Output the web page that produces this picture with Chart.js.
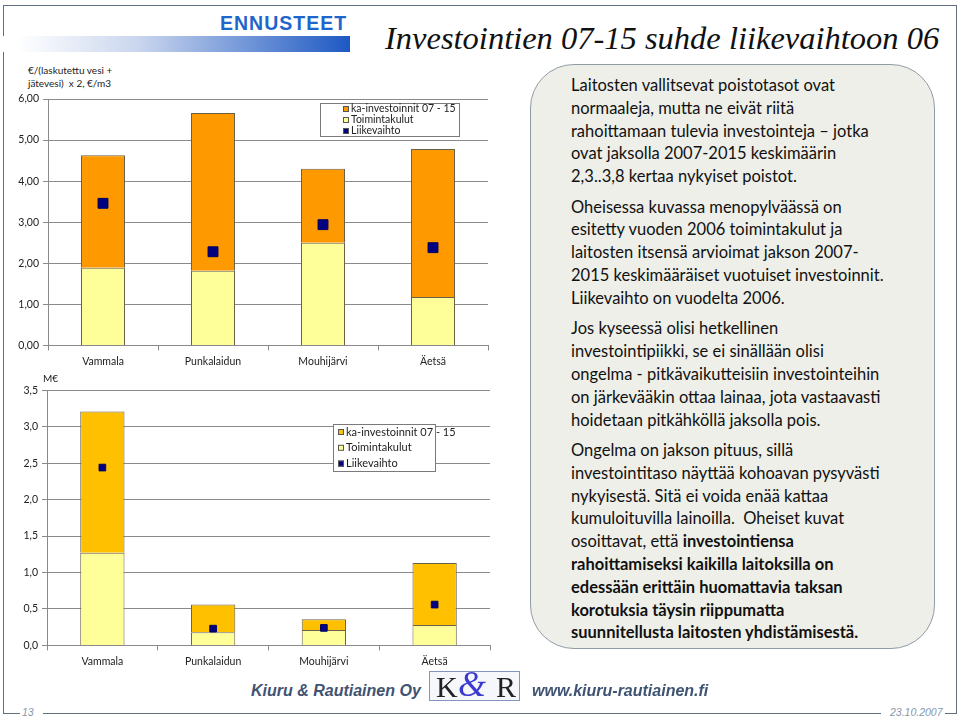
<!DOCTYPE html>
<html>
<head>
<meta charset="utf-8">
<script src="https://cdn.jsdelivr.net/npm/chart.js@4.4.0/dist/chart.umd.min.js"></script>
<style>
  html, body { margin: 0; padding: 0; background: #fff; }
  #page { position: relative; width: 959px; height: 721px; overflow: hidden; font-family: Lato, sans-serif; }
  .abs { position: absolute; }
  #frame { left: 3px; top: 5px; width: 952px; height: 708px; border-left: 1.5px solid #5f6f7f; border-top: 1.5px solid #5f6f7f; border-right: 1.5px solid #5f6f7f; }
  #grad { left: 0; top: 36px; width: 350px; height: 16px; background: linear-gradient(to right, #fff 0%, #fff 5%, #c9d5ee 40%, #1d59c3 100%); }
  #head { left: 220px; top: 12px; font: bold 19.5px "Liberation Sans", Arial, sans-serif; letter-spacing: 1px; color: #1f66cc; }
  #title { left: 385px; top: 20px; font: italic 32.5px "Liberation Serif", "Times New Roman", serif; color: #111; white-space: nowrap; }
  #ytitle { left: 28px; top: 64px; font-size: 10px; line-height: 13px; color: #222; }
  #meur { left: 43px; top: 372px; font-size: 10px; color: #222; }
  #note { left: 530px; top: 64px; width: 405px; height: 585px; border: 1.5px solid #8f9ca3; border-radius: 44px; background: #eeefe9; box-sizing: border-box; }
  #note .txt { position: absolute; left: 40px; top: 9px; font-size: 16.5px; line-height: 22.8px; color: #111; white-space: nowrap; }
  #note p { margin: 0 0 7.7px 0; }
  .foot { font: bold italic 16px "Liberation Sans", Arial, sans-serif; color: #3f5372; white-space: nowrap; }
  #logo { left: 429px; top: 671px; width: 91px; height: 30px; border: 1px solid #8593bf; background: #f6f7fb; box-sizing: border-box; }
  #logo span { position: absolute; font-family: "Liberation Serif", serif; }
  .small { font: italic 10.5px "Liberation Sans", Arial, sans-serif; color: #8797ad; }
  #bline { left: 43px; top: 713px; width: 838px; height: 0; border-top: 1.5px solid #5f6f7f; }
  #lcap { left: 3px; top: 713px; width: 17px; border-top: 1.5px solid #5f6f7f; }
  #rcap { left: 945px; top: 713px; width: 11.5px; border-top: 1.5px solid #5f6f7f; }
</style>
</head>
<body>
<div id="page">
  <div id="frame" class="abs"></div>
  <div id="grad" class="abs"></div>
  <div id="head" class="abs">ENNUSTEET</div>
  <div id="title" class="abs">Investointien 07-15 suhde liikevaihtoon 06</div>
  <div id="ytitle" class="abs">€/(laskutettu vesi +<br>jätevesi)&nbsp; x 2, €/m3</div>
  <canvas id="topChart" class="abs" style="left:0;top:88px;" width="500" height="285"></canvas>
  <div id="meur" class="abs">M€</div>
  <canvas id="botChart" class="abs" style="left:0;top:380px;" width="500" height="293"></canvas>

  <div id="note" class="abs">
    <div class="txt">
      <p>Laitosten vallitsevat poistotasot ovat<br>normaaleja, mutta ne eivät riitä<br>rahoittamaan tulevia investointeja – jotka<br>ovat jaksolla 2007-2015 keskimäärin<br>2,3..3,8 kertaa nykyiset poistot.</p>
      <p>Oheisessa kuvassa menopylväässä on<br>esitetty vuoden 2006 toimintakulut ja<br>laitosten itsensä arvioimat jakson 2007-<br>2015 keskimääräiset vuotuiset investoinnit.<br>Liikevaihto on vuodelta 2006.</p>
      <p>Jos kyseessä olisi hetkellinen<br>investointipiikki, se ei sinällään olisi<br>ongelma - pitkävaikutteisiin investointeihin<br>on järkevääkin ottaa lainaa, jota vastaavasti<br>hoidetaan pitkähköllä jaksolla pois.</p>
      <p>Ongelma on jakson pituus, sillä<br>investointitaso näyttää kohoavan pysyvästi<br>nykyisestä. Sitä ei voida enää kattaa<br>kumuloituvilla lainoilla.&nbsp; Oheiset kuvat<br>osoittavat, että <b>investointiensa<br>rahoittamiseksi kaikilla laitoksilla on<br>edessään erittäin huomattavia taksan<br>korotuksia täysin riippumatta<br>suunnitellusta laitosten yhdistämisestä.</b></p>
    </div>
  </div>

  <div class="abs foot" style="left:251px;top:682px;">Kiuru &amp; Rautiainen Oy</div>
  <div id="logo" class="abs">
    <span style="left:6px;top:-2px;font-size:30px;color:#222;">K</span>
    <span style="left:28px;top:-9px;font-size:36px;font-style:italic;color:#3a3ad0;">&amp;</span>
    <span style="left:66px;top:-2px;font-size:30px;color:#222;">R</span>
  </div>
  <div class="abs foot" style="left:532px;top:682px;">www.kiuru-rautiainen.fi</div>

  <div id="lcap" class="abs"></div>
  <div class="abs small" style="left:22px;top:706px;">13</div>
  <div id="bline" class="abs"></div>
  <div class="abs small" style="left:890px;top:706px;">23.10.2007</div>
  <div id="rcap" class="abs"></div>
</div>

<script>
// municipalities
const categories = ['Vammala', 'Punkalaidun', 'Mouhijärvi', 'Äetsä'];

// top chart: €/m3
const perM3Toimintakulut = [1.89, 1.82, 2.50, 1.18];
const perM3Investoinnit = [2.74, 3.84, 1.80, 3.60];
const perM3Liikevaihto = [3.46, 2.28, 2.94, 2.38];

// bottom chart: M€
const meurToimintakulut = [1.27, 0.18, 0.21, 0.28];
const meurInvestoinnit = [1.94, 0.38, 0.15, 0.85];
const meurLiikevaihto = [2.44, 0.23, 0.24, 0.56];

const labelInv = 'ka-investoinnit 07 - 15';
const labelToim = 'Toimintakulut';
const labelLv = 'Liikevaihto';

const gridCol = '#8a8a8a';
const barBorder = '#6a6248';
const tickFont = { family: 'Lato', size: 10.5 };

// legend drawn in a box inside the plot, like the spreadsheet original
const boxLegend = {
  id: 'boxLegend',
  afterDraw(chart, args, o) {
    const ctx = chart.ctx;
    ctx.save();
    ctx.fillStyle = '#fff';
    ctx.fillRect(o.x, o.y, o.w, o.h);
    ctx.strokeStyle = '#7a7a7a';
    ctx.lineWidth = 1;
    ctx.strokeRect(o.x + 0.5, o.y + 0.5, o.w, o.h);
    ctx.font = o.font;
    ctx.textBaseline = 'middle';
    o.order.forEach((idx, i) => {
      const ds = chart.data.datasets[idx];
      const cy = o.y + o.first + i * o.step;
      ctx.fillStyle = ds.legendColor || ds.backgroundColor;
      ctx.fillRect(o.x + o.mx, cy - o.s / 2, o.s, o.s);
      ctx.strokeStyle = '#555';
      ctx.strokeRect(o.x + o.mx + 0.5, cy - o.s / 2 + 0.5, o.s - 1, o.s - 1);
      ctx.fillStyle = '#222';
      ctx.fillText(ds.label, o.x + o.tx, cy);
    });
    ctx.restore();
  }
};

function makeChart(id, toim, inv, lv, invColor, yMax, step, decimals, axisW, padTop, padRight, markR, legend) {
  return new Chart(document.getElementById(id), {
    type: 'bar',
    data: {
      labels: categories,
      datasets: [
        {
          type: 'line', label: labelLv, data: lv, stack: 'lv', order: 0,
          showLine: false, pointStyle: 'rect', pointRadius: markR,
          backgroundColor: '#000080', borderColor: '#000060', borderWidth: 1,
          legendColor: '#000080'
        },
        {
          label: labelToim, data: toim, stack: 'cost', order: 1,
          backgroundColor: '#ffff99', borderColor: barBorder, borderWidth: 1,
          barPercentage: 0.4, categoryPercentage: 1.0
        },
        {
          label: labelInv, data: inv, stack: 'cost', order: 2,
          backgroundColor: invColor, borderColor: barBorder, borderWidth: 1,
          barPercentage: 0.4, categoryPercentage: 1.0
        }
      ]
    },
    options: {
      responsive: false,
      animation: false,
      layout: { padding: { top: padTop, right: padRight, left: 0, bottom: 0 } },
      plugins: {
        legend: { display: false },
        tooltip: { enabled: false },
        boxLegend: legend
      },
      scales: {
        x: {
          stacked: true,
          grid: { offset: true, drawOnChartArea: false, tickLength: 5, color: gridCol },
          border: { color: gridCol },
          ticks: { font: tickFont, color: '#222', padding: 5 }
        },
        y: {
          stacked: true,
          min: 0, max: yMax,
          grid: { color: gridCol, tickLength: 5 },
          border: { color: gridCol },
          ticks: {
            stepSize: step, font: tickFont, color: '#222', padding: 4,
            callback: v => v.toFixed(decimals).replace('.', ',')
          },
          afterFit: s => { s.width = axisW; }
        }
      }
    },
    plugins: [boxLegend]
  });
}

makeChart('topChart', perM3Toimintakulut, perM3Investoinnit, perM3Liikevaihto, '#ff9900',
  6, 1, 2, 48, 11, 12, 7,
  { x: 320, y: 15, w: 139, h: 33, first: 6, step: 11, mx: 23, s: 6, tx: 31, font: '10.5px Lato', order: [2, 1, 0] });

makeChart('botChart', meurToimintakulut, meurInvestoinnit, meurLiikevaihto, '#ffc000',
  3.5, 0.5, 1, 47, 10, 10, 4.7,
  { x: 333, y: 44, w: 102, h: 47, first: 8, step: 15.8, mx: 5, s: 6, tx: 13, font: '11px Lato', order: [2, 1, 0] });
</script>
</body>
</html>
